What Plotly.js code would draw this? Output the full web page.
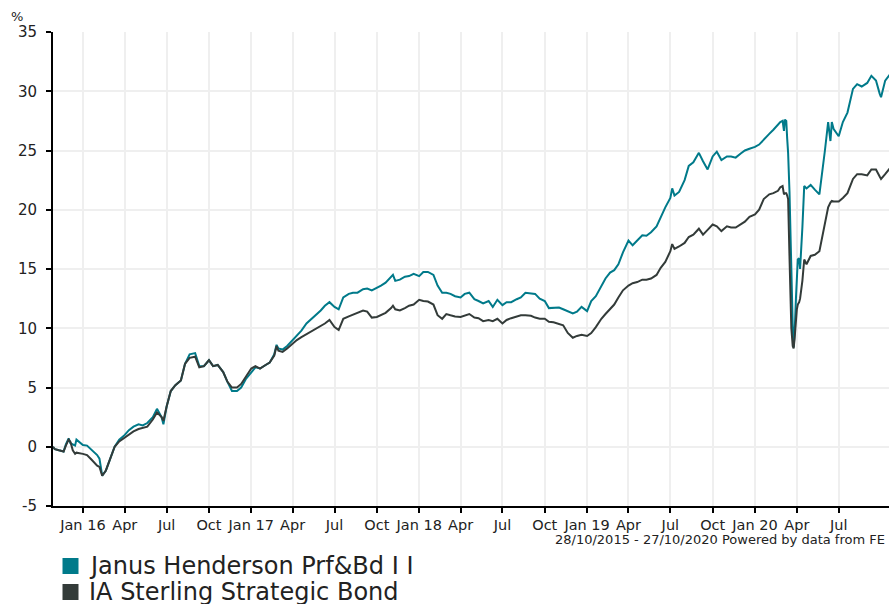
<!DOCTYPE html>
<html>
<head>
<meta charset="utf-8">
<script src="https://cdn.plot.ly/plotly-3.0.1.min.js"></script>
<style>
html,body{margin:0;padding:0;overflow:hidden;background:#fff;}
#chart{width:905px;height:604px;}
</style>
</head>
<body>
<div id="chart"></div>
<script>
const dates = [
'2015-10-28','2015-11-01','2015-11-10','2015-11-20','2015-11-25','2015-12-01','2015-12-05','2015-12-10','2015-12-15','2015-12-18',
'2016-01-01','2016-01-10','2016-01-20','2016-02-01','2016-02-06','2016-02-12','2016-02-20','2016-03-01','2016-03-10','2016-03-20',
'2016-04-01','2016-04-10','2016-04-20','2016-05-01','2016-05-10','2016-05-20','2016-06-01','2016-06-10','2016-06-20','2016-06-24',
'2016-07-01','2016-07-10','2016-07-20','2016-08-01','2016-08-10','2016-08-20','2016-09-01','2016-09-10','2016-09-20',
'2016-10-01','2016-10-10','2016-10-20','2016-11-01','2016-11-10','2016-11-20','2016-12-01','2016-12-10','2016-12-20',
'2017-01-01','2017-01-10','2017-01-20','2017-02-01','2017-02-10','2017-02-20','2017-02-25','2017-03-01','2017-03-10','2017-03-20',
'2017-04-01','2017-04-10','2017-04-20','2017-05-01','2017-05-10','2017-05-20','2017-06-01','2017-06-10','2017-06-20',
'2017-07-01','2017-07-10','2017-07-20','2017-08-01','2017-08-10','2017-08-20','2017-09-01','2017-09-10','2017-09-20',
'2017-10-01','2017-10-10','2017-10-20','2017-11-01','2017-11-05','2017-11-10','2017-11-20','2017-12-01','2017-12-10','2017-12-20',
'2018-01-01','2018-01-10','2018-01-20','2018-02-01','2018-02-10','2018-02-20','2018-03-01','2018-03-10','2018-03-20',
'2018-04-01','2018-04-10','2018-04-20','2018-05-01','2018-05-10','2018-05-20','2018-06-01','2018-06-10','2018-06-20',
'2018-07-01','2018-07-10','2018-07-20','2018-08-01','2018-08-10','2018-08-20','2018-09-01','2018-09-10','2018-09-20',
'2018-10-01','2018-10-10','2018-10-20','2018-11-01','2018-11-10','2018-11-20','2018-12-01','2018-12-10','2018-12-20',
'2019-01-01','2019-01-10','2019-01-20','2019-02-01','2019-02-10','2019-02-20','2019-03-01','2019-03-10','2019-03-20',
'2019-04-01','2019-04-10','2019-04-20','2019-05-01','2019-05-10','2019-05-20','2019-06-01','2019-06-10','2019-06-20',
'2019-07-01','2019-07-05','2019-07-10','2019-07-20','2019-08-01','2019-08-10','2019-08-20','2019-09-01','2019-09-10','2019-09-20',
'2019-10-01','2019-10-10','2019-10-20','2019-11-01','2019-11-10','2019-11-20','2019-12-01','2019-12-10','2019-12-20',
'2020-01-01','2020-01-10','2020-01-20','2020-02-01','2020-02-10','2020-02-20','2020-02-25','2020-03-01','2020-03-04','2020-03-06',
'2020-03-09','2020-03-11','2020-03-13','2020-03-16','2020-03-18','2020-03-20','2020-03-23','2020-03-25','2020-03-27','2020-03-30',
'2020-04-01','2020-04-03','2020-04-06','2020-04-08','2020-04-13','2020-04-17','2020-04-22','2020-05-01','2020-05-10','2020-05-20',
'2020-06-01','2020-06-08','2020-06-13','2020-06-16','2020-06-20','2020-07-01','2020-07-10','2020-07-20',
'2020-08-01','2020-08-10','2020-08-20','2020-09-01','2020-09-10','2020-09-20','2020-09-28','2020-10-01','2020-10-10','2020-10-20','2020-10-27'
];

const janusHenderson = [
0.0,-0.2,-0.3,-0.4,0.2,0.7,0.3,0.2,0.1,0.6,
0.15,0.1,-0.3,-0.7,-1.0,-2.45,-2.0,-1.0,0.0,0.6,
1.0,1.4,1.7,1.9,1.8,2.0,2.5,3.2,2.5,1.9,
3.4,4.7,5.2,5.6,7.0,7.8,7.9,6.8,6.8,
7.3,6.8,6.9,6.3,5.5,4.7,4.7,5.0,5.7,
6.3,6.7,6.6,6.9,7.1,7.8,8.6,8.3,8.2,8.5,
9.0,9.3,9.8,10.4,10.7,11.1,11.5,11.9,12.2,
11.8,11.6,12.6,12.9,13.0,13.0,13.3,13.35,13.2,
13.4,13.6,13.85,14.3,14.5,14.0,14.1,14.35,14.4,14.6,
14.4,14.75,14.75,14.5,13.6,13.0,13.0,12.9,12.7,
12.6,12.9,13.0,12.45,12.3,12.1,12.3,11.8,12.4,
11.95,12.2,12.2,12.45,12.6,13.0,12.95,12.9,12.5,
12.3,11.7,11.75,11.75,11.6,11.4,11.25,11.4,11.8,
11.45,12.3,12.7,13.5,14.2,14.7,14.9,15.4,16.4,
17.4,17.0,17.4,17.85,17.8,18.1,18.6,19.4,20.2,
21.0,21.8,21.2,21.5,22.5,23.7,24.0,24.8,24.1,23.4,
24.5,24.9,24.2,24.5,24.5,24.4,24.75,25.0,25.15,
25.3,25.5,25.95,26.4,26.75,27.2,27.4,27.5,26.65,27.6,
27.5,26.0,24.8,21.5,17.5,14.0,10.2,8.4,9.5,12.5,
14.0,15.8,15.9,15.0,18.5,22.0,21.8,22.1,21.7,21.3,
25.0,27.4,25.8,27.4,26.8,26.2,27.4,28.2,
30.2,30.6,30.4,30.7,31.3,30.9,29.8,29.5,30.9,31.4,31.5
];

const sterlingStrategicBond = [
0.0,-0.2,-0.3,-0.4,0.1,0.6,0.4,-0.3,-0.6,-0.5,
-0.6,-0.7,-1.1,-1.6,-1.7,-2.45,-2.0,-1.0,0.0,0.45,
0.8,1.05,1.3,1.5,1.6,1.7,2.3,2.9,2.5,2.2,
3.4,4.7,5.2,5.6,7.0,7.5,7.6,6.7,6.8,
7.3,6.8,6.9,6.3,5.5,5.0,5.0,5.3,5.9,
6.6,6.8,6.6,6.9,7.1,7.7,8.5,8.1,8.0,8.3,
8.7,9.0,9.25,9.5,9.65,9.9,10.2,10.4,10.7,
10.1,9.85,10.8,11.0,11.15,11.25,11.5,11.4,10.9,
10.95,11.1,11.3,11.7,11.9,11.6,11.5,11.7,11.9,12.0,
12.4,12.3,12.25,12.0,11.1,10.8,11.2,11.1,11.0,
10.95,11.1,11.2,10.9,10.85,10.6,10.7,10.6,10.8,
10.4,10.7,10.85,11.0,11.1,11.1,11.05,10.9,10.8,
10.8,10.55,10.5,10.35,10.25,9.6,9.2,9.35,9.45,
9.35,9.6,10.1,10.8,11.2,11.65,12.0,12.6,13.2,
13.6,13.8,13.9,14.1,14.1,14.2,14.5,15.1,15.6,
16.5,17.1,16.7,16.9,17.2,17.7,17.9,18.4,17.9,18.3,
18.75,18.6,18.2,18.6,18.5,18.5,18.75,19.0,19.4,
19.6,20.0,20.9,21.3,21.4,21.6,21.9,22.0,21.3,21.4,
21.4,21.2,20.9,16.0,12.5,10.0,8.5,8.3,9.1,11.0,
11.6,12.0,12.2,12.5,14.0,15.8,15.4,16.1,16.2,16.5,
18.8,20.2,20.6,20.75,20.7,20.7,21.0,21.4,
22.6,23.0,23.0,22.9,23.4,23.4,22.8,22.6,23.0,23.5,23.7
];

const seriesNames = ['Janus Henderson Prf&Bd I I', 'IA Sterling Strategic Bond'];
const seriesColors = ['#007a8a', '#333b39'];

const xTickVals = ['2016-01-01','2016-04-01','2016-07-01','2016-10-01','2017-01-01','2017-04-01','2017-07-01','2017-10-01',
  '2018-01-01','2018-04-01','2018-07-01','2018-10-01','2019-01-01','2019-04-01','2019-07-01','2019-10-01',
  '2020-01-01','2020-04-01','2020-07-01'];
const xTickText = ['Jan 16','Apr','Jul','Oct','Jan 17','Apr','Jul','Oct','Jan 18','Apr','Jul','Oct',
  'Jan 19','Apr','Jul','Oct','Jan 20','Apr','Jul'];
const yTickVals = [-5,0,5,10,15,20,25,30,35];
const yTickText = ['-5','0','5','10','15','20','25','30','35'];
const footerText = '28/10/2015 - 27/10/2020 Powered by data from FE';

const FONT = 'DejaVu Sans, Verdana, sans-serif';

const traces = [
  {x: dates, y: janusHenderson, name: seriesNames[0], type: 'scatter', mode: 'lines',
   line: {color: seriesColors[0], width: 2}, showlegend: false, hoverinfo: 'skip'},
  {x: dates, y: sterlingStrategicBond, name: seriesNames[1], type: 'scatter', mode: 'lines',
   line: {color: seriesColors[1], width: 2}, showlegend: false, hoverinfo: 'skip'}
];

// plot area in pixels: x 53..893, y 32..506
const L = 53, PW = 840, T = 32, PH = 474;
const px = v => (v - L) / PW;
const py = v => (T + PH - v) / PH;

const legendRows = [566, 592];
const shapes = seriesNames.map((n, i) => ({
  type: 'rect', xref: 'paper', yref: 'paper',
  x0: px(62.5), x1: px(78.5), y0: py(legendRows[i] + 8), y1: py(legendRows[i] - 8),
  fillcolor: seriesColors[i], line: {width: 0}
}));

const annotations = [
  {text: '%', xref: 'paper', yref: 'paper', x: px(16.5), y: py(16.5), xanchor: 'center', yanchor: 'middle',
   showarrow: false, font: {family: FONT, size: 13, color: '#222'}},
  {text: footerText, xref: 'paper', yref: 'paper', x: px(553), y: py(539.5), xanchor: 'left', yanchor: 'middle',
   showarrow: false, font: {family: FONT, size: 13, color: '#222'}}
].concat(seriesNames.map((n, i) => ({
  text: n, xref: 'paper', yref: 'paper', x: px(87), y: py(legendRows[i]), xanchor: 'left', yanchor: 'middle',
  showarrow: false, font: {family: FONT, size: 24, color: '#222'}
})));

const layout = {
  width: 905, height: 604,
  margin: {l: L, r: 905 - L - PW, t: T, b: 604 - T - PH, pad: 0},
  paper_bgcolor: '#ffffff', plot_bgcolor: '#ffffff',
  showlegend: false,
  font: {family: FONT, size: 15, color: '#222'},
  xaxis: {
    type: 'date', range: ['2015-10-28', '2020-10-27'],
    tickmode: 'array', tickvals: xTickVals, ticktext: xTickText,
    ticks: 'outside', ticklen: 5, tickwidth: 2, tickcolor: '#000',
    showline: true, linecolor: '#000', linewidth: 2,
    showgrid: true, gridcolor: '#efefef', gridwidth: 2, zeroline: false,
    tickfont: {family: FONT, size: 14.5, color: '#222'}, fixedrange: true
  },
  yaxis: {
    range: [-5, 35], tickmode: 'array', tickvals: yTickVals, ticktext: yTickText,
    ticks: 'outside', ticklen: 5, tickwidth: 2, tickcolor: '#000',
    showline: true, linecolor: '#000', linewidth: 2,
    showgrid: true, gridcolor: '#efefef', gridwidth: 2, zeroline: false,
    ticklabelstandoff: 6,
    tickfont: {family: FONT, size: 15, color: '#222'}, fixedrange: true
  },
  shapes: shapes,
  annotations: annotations
};

Plotly.newPlot('chart', traces, layout, {displayModeBar: false, staticPlot: true});
</script>
</body>
</html>
